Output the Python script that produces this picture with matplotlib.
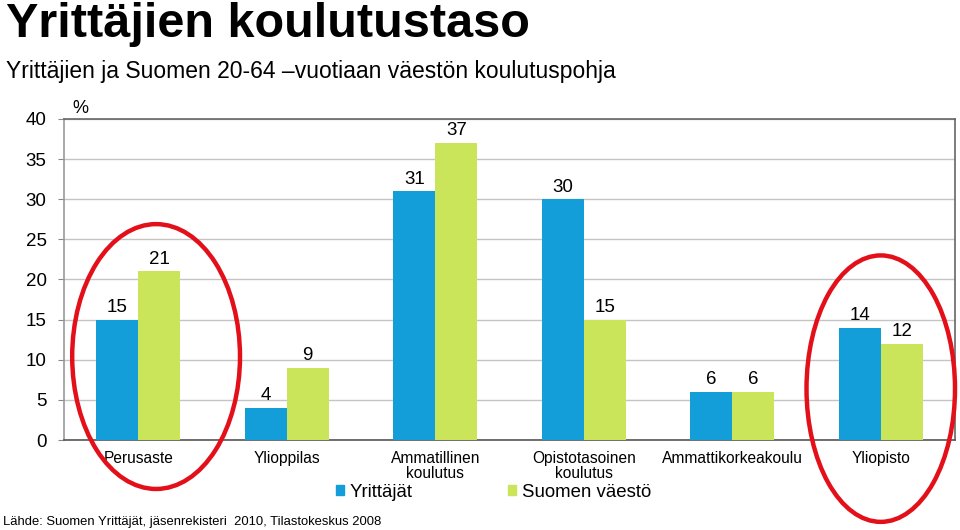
import matplotlib.pyplot as plt
import numpy as np
from matplotlib.patches import Ellipse, Patch

# data
categories = ["Perusaste", "Ylioppilas", "Ammatillinen\nkoulutus",
              "Opistotasoinen\nkoulutus", "Ammattikorkeakoulu", "Yliopisto"]
yrittajat = [15, 4, 31, 30, 6, 14]
vaesto = [21, 9, 37, 15, 6, 12]
series_names = ["Yrittäjät", "Suomen väestö"]
yticks = [0, 5, 10, 15, 20, 25, 30, 35, 40]

blue = "#139ED9"
green = "#CBE55B"
font = "Liberation Sans"

fig = plt.figure(figsize=(9.6, 5.3), dpi=100)
ax = fig.add_axes([0.0667, 0.1698, 0.9281, 0.6057])

x = np.arange(len(categories))
w = 0.283
b1 = ax.bar(x - w / 2, yrittajat, w, color=blue, zorder=3)
b2 = ax.bar(x + w / 2, vaesto, w, color=green, zorder=3)

for bars, vals in ((b1, yrittajat), (b2, vaesto)):
    for r, v in zip(bars, vals):
        ax.text(r.get_x() + r.get_width() / 2, v + 0.45, str(v),
                ha="center", va="bottom", fontsize=13.5, family=font)

ax.set_xlim(-0.5, len(categories) - 0.5)
ax.set_ylim(0, 40)
ax.set_yticks(yticks)
ax.set_yticklabels([str(t) for t in yticks], fontsize=13.5, family=font)
ax.tick_params(axis="y", length=4.5, color="#888888", pad=8)
ax.set_xticks(x)
ax.set_xticklabels(categories, fontsize=11.2, family=font, linespacing=0.95)
ax.tick_params(axis="x", length=0, pad=8)
ax.grid(axis="y", color="#c4c4c4", linewidth=1, zorder=0)

ax.spines["left"].set_color("#999999")
ax.spines["bottom"].set_color("#555555")
ax.spines["top"].set_color("#666666")
ax.spines["right"].set_color("#666666")
for s in ax.spines.values():
    s.set_linewidth(1.2)

ax.text(0.009, 1.02, "%", transform=ax.transAxes, fontsize=13, family=font)

# red highlight ellipses
for cx, cy, ew, eh in ((0.12, 10.4, 1.13, 33.0), (5.0, 6.4, 1.0, 33.2)):
    ax.add_patch(Ellipse((cx, cy), ew, eh, fill=False, edgecolor="#e3101a",
                         linewidth=3.2, clip_on=False, zorder=5))

fig.text(0.006, 0.930, "Yrittäjien koulutustaso", fontsize=35,
         fontweight="bold", family=font, va="baseline", ha="left")
fig.text(0.006, 0.853, "Yrittäjien ja Suomen 20-64 \u2013vuotiaan väestön koulutuspohja",
         fontsize=16.5, family=font, va="baseline", ha="left")

handles = [Patch(color=blue), Patch(color=green)]
fig.legend(handles, series_names, loc="center", bbox_to_anchor=(0.514, 0.071),
           ncol=2, frameon=False, prop={"family": font, "size": 13.4},
           handlelength=0.45, handleheight=0.45, handletextpad=0.3,
           columnspacing=5.1)

fig.text(0.003, 0.01, "Lähde: Suomen Yrittäjät, jäsenrekisteri  2010, Tilastokeskus 2008",
         fontsize=9.4, family=font, va="baseline", ha="left")

fig.savefig("out.png", dpi=100)
